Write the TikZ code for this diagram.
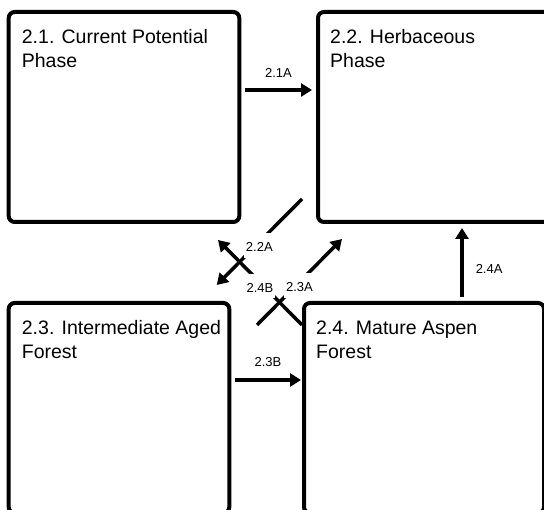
\documentclass[tikz,border=0pt]{standalone}
\usepackage{fontspec}
\setmainfont{Liberation Sans}
\usetikzlibrary{positioning,arrows.meta}

\begin{document}
\begin{tikzpicture}[
    x=1pt, y=1pt,
    phase/.style={rectangle, draw, line width=4pt, rounded corners=6pt, minimum height=210pt, inner sep=0pt, outer sep=0pt},
    title/.style={align=left, inner sep=0pt, font=\fontsize{19.5}{24}\selectfont},
    tag/.style={inner sep=2pt, font=\fontsize{13}{15}\selectfont},
    cut/.style={tag, fill=white, text height=16.6pt, text depth=3.9pt, yshift=-3.3pt},
    arrow/.style={-{Triangle[length=11pt,width=13pt]}, line width=3.5pt}
]
\useasboundingbox (0,0) rectangle (544,510);
\clip (0,0) rectangle (544,510);

\node[phase, minimum width=230.6pt, anchor=north west] (p21) at (8.7,498) {};
\node[phase, minimum width=240pt, right=78.7pt of p21.north east, anchor=north west] (p22) {};
\node[phase, minimum width=220.6pt, below=81pt of p21.south west, anchor=north west] (p23) {};
\node[phase, minimum width=240pt, right=74.7pt of p23.north east, anchor=north west] (p24) {};

\node[title, below right=17.5pt and 13pt of p21.north west] (t21) {2.1. Current Potential\\Phase};
\node[title, below right=17.5pt and 12pt of p22.north west] (t22) {2.2. Herbaceous\\Phase};
\node[title, below right=17.5pt and 13pt of p23.north west] (t23) {2.3. Intermediate Aged\\Forest};
\node[title, below right=17.5pt and 12pt of p24.north west] (t24) {2.4. Mature Aspen\\Forest};

\draw[arrow] ([shift={(5.7,27)}]p21.east) -- node[tag, above=9pt] (l21A) {2.1A} ([shift={(-6,27)}]p22.west);
\draw[arrow] ([shift={(5.7,28)}]p23.east) -- node[tag, above=10pt] (l23B) {2.3B} ([shift={(-3,28)}]p24.west);
\draw[arrow] ([shift={(38,6)}]p24.north) -- node[tag, pos=0.41, right=10pt] (l24A) {2.4A} ([shift={(24,-6)}]p22.south);

\draw[arrow] ([shift={(-16,23)}]p22.south west) -- node[cut] (l22A) {2.2A} ([shift={(-12.6,18)}]p23.north east);
\draw[arrow] ([shift={(-2,-22)}]p24.north west) -- node[cut] (l24B) {2.4B} ([shift={(-21.3,-18)}]p21.south east);
\draw[arrow] ([shift={(27.7,-22)}]p23.north east) -- node[cut] (l23A) {2.3A} ([shift={(24,-17)}]p22.south west);
\end{tikzpicture}
\end{document}
